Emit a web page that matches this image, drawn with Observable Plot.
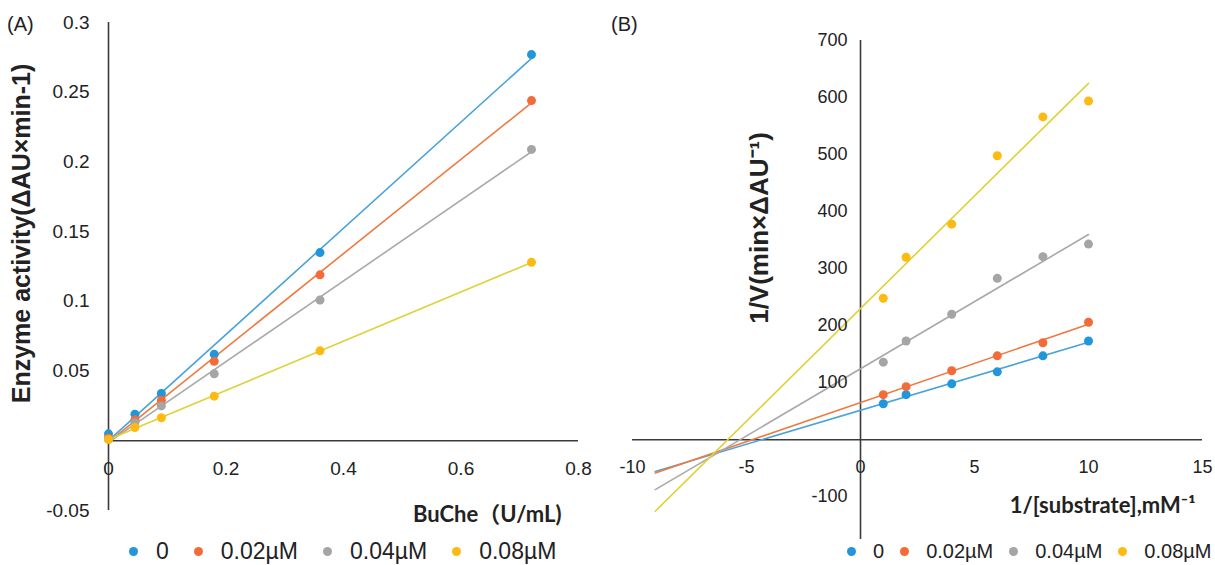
<!DOCTYPE html>
<html><head><meta charset="utf-8">
<script src="https://cdn.jsdelivr.net/npm/d3@7"></script>
<script src="https://cdn.jsdelivr.net/npm/@observablehq/plot@0.6"></script>
<style>
body{margin:0;background:#fff;}
#root{position:relative;width:1215px;height:565px;overflow:hidden;background:#fff;font-family:"Liberation Sans",Arial,sans-serif;color:#222;}
.panel{position:absolute;top:0;}
.legend{position:absolute;display:flex;align-items:center;white-space:nowrap;}
.legend .sw{border-radius:50%;display:inline-block;}
.plabel{position:absolute;font-size:20px;}
</style></head><body><div id="root"></div>
<script>
// ---------- data ----------
const seriesNames = ["0", "0.02µM", "0.04µM", "0.08µM"];
const pointColors = ["#2196DA", "#F26B38", "#A5A5A5", "#FDBA12"];
const lineColors  = ["#4AA3DA", "#EE7A40", "#A9A9A9", "#DDD236"];

// Panel A: enzyme activity vs BuChe
const buche = [0, 0.045, 0.09, 0.18, 0.36, 0.72];
const actA0 = [0.005, 0.019, 0.034, 0.062, 0.135, 0.277];
const actA1 = [0.002, 0.015, 0.029, 0.057, 0.119, 0.244];
const actA2 = [0.001, 0.013, 0.025, 0.048, 0.101, 0.209];
const actA3 = [0.001, 0.0095, 0.0165, 0.032, 0.0645, 0.128];
const ticksAx = [0, 0.2, 0.4, 0.6, 0.8];
const tickLabelsAx = ["0", "0.2", "0.4", "0.6", "0.8"];
const ticksAy = [0.3, 0.25, 0.2, 0.15, 0.1, 0.05, -0.05];
const tickLabelsAy = ["0.3", "0.25", "0.2", "0.15", "0.1", "0.05", "-0.05"];

// Panel B: Lineweaver-Burk
const invS = [1, 2, 4, 6, 8, 10];
const invV0 = [63, 79, 98, 119, 147, 173];
const invV1 = [79, 93, 121, 147, 170, 206];
const invV2 = [136, 173, 220, 283, 321, 343];
const invV3 = [248, 320, 378, 498, 566, 594];
const trendStartB = -9; // trendline backward forecast start
const ticksBx = [-10, -5, 0, 5, 10, 15];
const ticksBy = [700, 600, 500, 400, 300, 200, 100, -100];

const seriesA = [actA0, actA1, actA2, actA3];
const seriesB = [invV0, invV1, invV2, invV3];

function fit(xs, ys) {
  const mx = d3.mean(xs), my = d3.mean(ys);
  let sxy = 0, sxx = 0;
  xs.forEach((x, i) => { sxy += (x - mx) * (ys[i] - my); sxx += (x - mx) ** 2; });
  const b = sxy / sxx;
  return {a: my - b * mx, b};
}

const root = document.getElementById("root");
const tickFont = '"Liberation Sans", Arial, sans-serif';
const titleFont = '"Liberation Sans", Arial, "Noto Sans CJK SC", sans-serif';
const xTitleFont = 'Lato, "Noto Sans CJK SC", sans-serif';

// ---------- Panel A ----------
const marksA = [
  Plot.ruleX([0], {stroke: "#3a3a3a", strokeWidth: 1.6}),
  Plot.ruleY([0], {stroke: "#3a3a3a", strokeWidth: 1.6})
];
seriesA.forEach((ys, k) => {
  const f = fit(buche, ys);
  const x0 = d3.min(buche), x1 = d3.max(buche);
  marksA.push(Plot.line([{x: x0, y: f.a + f.b * x0}, {x: x1, y: f.a + f.b * x1}],
    {x: "x", y: "y", stroke: lineColors[k], strokeWidth: 1.6}));
});
seriesA.forEach((ys, k) => {
  marksA.push(Plot.dot(buche.map((x, i) => ({x, y: ys[i]})),
    {x: "x", y: "y", r: 4.5, fill: pointColors[k], stroke: "none"}));
});
marksA.push(
  Plot.text(ticksAx, {x: d => d, y: 0, dy: 28, text: (d, i) => tickLabelsAx[i], fontSize: 19, fill: "#222", fontFamily: tickFont}),
  Plot.text(ticksAy, {x: 0, y: d => d, dx: -19, textAnchor: "end", text: (d, i) => tickLabelsAy[i], fontSize: 19, fill: "#222", fontFamily: tickFont}),
  Plot.text(["Enzyme activity(ΔAU×min-1)"], {frameAnchor: "left", textAnchor: "middle", dx: -87, dy: -33, rotate: -90, fontSize: 25, fontWeight: "bold", fill: "#222", fontFamily: titleFont}),
  Plot.text(["BuChe（U/mL)"], {frameAnchor: "bottom-right", dx: -17, dy: 11, textAnchor: "end", fontSize: 22, fontWeight: "bold", fill: "#222", fontFamily: xTitleFont})
);
const plotA = Plot.plot({
  width: 600, height: 530,
  marginLeft: 108, marginRight: 22, marginTop: 22, marginBottom: 20,
  x: {domain: [0, 0.8], axis: null},
  y: {domain: [-0.05, 0.3], axis: null},
  style: {background: "transparent", overflow: "visible"},
  marks: marksA
});
plotA.classList.add("panel");
plotA.style.left = "0px";
root.appendChild(plotA);

// ---------- Panel B ----------
const marksB = [
  Plot.ruleX([0], {stroke: "#3a3a3a", strokeWidth: 1.6}),
  Plot.ruleY([0], {stroke: "#3a3a3a", strokeWidth: 1.6})
];
seriesB.forEach((ys, k) => {
  const f = fit(invS, ys);
  const x0 = trendStartB, x1 = d3.max(invS);
  marksB.push(Plot.line([{x: x0, y: f.a + f.b * x0}, {x: x1, y: f.a + f.b * x1}],
    {x: "x", y: "y", stroke: lineColors[k], strokeWidth: 1.6}));
});
seriesB.forEach((ys, k) => {
  marksB.push(Plot.dot(invS.map((x, i) => ({x, y: ys[i]})),
    {x: "x", y: "y", r: 4.5, fill: pointColors[k], stroke: "none"}));
});
marksB.push(
  Plot.text(ticksBx, {x: d => d, y: 0, dy: 28, text: d => String(d), fontSize: 18, fill: "#222", fontFamily: tickFont}),
  Plot.text(ticksBy, {x: 0, y: d => d, dx: -13, textAnchor: "end", text: d => String(d), fontSize: 18, fill: "#222", fontFamily: tickFont}),
  Plot.text(["1/V(min×ΔAU⁻¹)"], {frameAnchor: "left", textAnchor: "middle", dx: 127, dy: -62, rotate: -90, fontSize: 26, fontWeight: "bold", fill: "#222", fontFamily: titleFont}),
  Plot.text(["1/[substrate],mM⁻¹"], {frameAnchor: "bottom-right", dx: -7, dy: -27, textAnchor: "end", fontSize: 22, fontWeight: "bold", fill: "#222", fontFamily: xTitleFont})
);
const plotB = Plot.plot({
  width: 615, height: 545,
  marginLeft: 32, marginRight: 13, marginTop: 40, marginBottom: 6,
  x: {domain: [-10, 15], axis: null},
  y: {domain: [-175, 700], axis: null},
  style: {background: "transparent", overflow: "visible"},
  marks: marksB
});
plotB.classList.add("panel");
plotB.style.left = "600px";
root.appendChild(plotB);

// ---------- panel labels ----------
[["(A)", 7], ["(B)", 611]].forEach(([t, x]) => {
  const d = document.createElement("div");
  d.className = "plabel"; d.textContent = t;
  d.style.left = x + "px"; d.style.top = "13px";
  root.appendChild(d);
});

// ---------- legends ----------
function legend(left, centerY, fontSize, r, gapIn, gapOut) {
  const L = document.createElement("div");
  L.className = "legend";
  L.style.left = left + "px";
  L.style.top = (centerY - fontSize * 0.6) + "px";
  L.style.height = (fontSize * 1.2) + "px";
  L.style.fontSize = fontSize + "px";
  seriesNames.forEach((s, k) => {
    const sw = document.createElement("span");
    sw.className = "sw";
    sw.style.width = sw.style.height = (2 * r) + "px";
    sw.style.background = pointColors[k];
    sw.style.marginRight = gapIn + "px";
    if (k > 0) sw.style.marginLeft = gapOut + "px";
    const tx = document.createElement("span");
    tx.textContent = s;
    L.appendChild(sw); L.appendChild(tx);
  });
  root.appendChild(L);
}
legend(129, 552, 23, 4.5, 18, 25);
legend(847, 551, 20, 4.5, 17, 16);
</script></body></html>
